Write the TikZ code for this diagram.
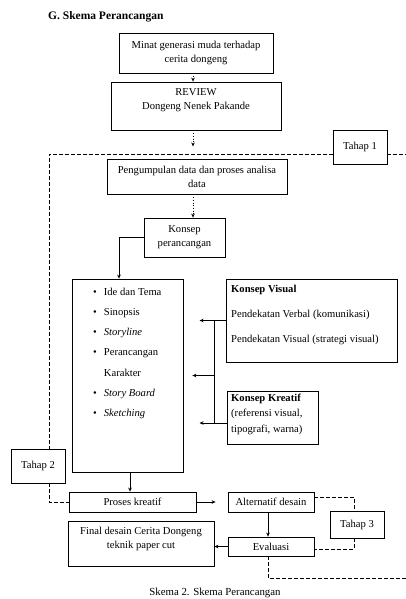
\documentclass[tikz,border=0pt]{standalone}
\usepackage{fontspec}
\setmainfont{Liberation Serif}
\usetikzlibrary{arrows.meta}

\begin{document}
\begin{tikzpicture}[x=1pt,y=-1pt,line join=miter,>={Stealth[length=4pt,width=3.6pt]},
    kotak/.style={draw,line width=0.8pt,fill=white,inner sep=0pt,font=\fontsize{10.6}{14}\selectfont,align=center},
    teks/.style={inner sep=0pt,font=\fontsize{10.6}{14}\selectfont},
    garis/.style={line width=0.7pt},
    titik/.style={line width=0.7pt,dotted},
    putus/.style={line width=0.7pt,dash pattern=on 3.5pt off 2.5pt}]
    \useasboundingbox (0,0) rectangle (406,599);
    % judul
    \node[teks,anchor=west,font=\bfseries\fontsize{11.5}{12}\selectfont] (judul) at (48,17) {G. Skema Perancangan};
    % tahap 1
    \node[kotak,minimum width=154pt,minimum height=40pt] (minat) at (196,53) {Minat generasi muda terhadap\\cerita dongeng};
    \node[kotak,minimum width=170pt,minimum height=48pt] (review) at (196,106) {};
    \node[teks,align=center] (teksreview) at (196,100) {REVIEW\\Dongeng Nenek Pakande};
    \coordinate (kiri) at (49,154);
    \coordinate (kanan) at (406,154);
    \node[kotak,minimum width=54pt,minimum height=34pt] (tahap1) at (360,147) {Tahap 1};
    \node[kotak,minimum width=180pt,minimum height=35pt] (kumpul) at (197,176.5) {Pengumpulan data dan proses analisa\\data};
    \node[kotak,minimum width=81pt,minimum height=39pt] (konsep) at (184.5,237.5) {Konsep\\perancangan};
    % tahap 2
    \node[kotak,minimum width=111pt,minimum height=193pt] (daftar) at (127.5,375.5) {};
    \node[teks,anchor=base west] (isidaftar) at (93,295) {\fontsize{10.6}{20.3}\selectfont
        \begin{tabular}[t]{@{}c@{\hspace{7pt}}l@{}}
        \textbullet & Ide dan Tema\\
        \textbullet & Sinopsis\\
        \textbullet & \textit{Storyline}\\
        \textbullet & Perancangan\\
                    & Karakter\\
        \textbullet & \textit{Story Board}\\
        \textbullet & \textit{Sketching}
        \end{tabular}};
    \node[kotak,minimum width=171pt,minimum height=83pt] (visual) at (311.5,320.5) {};
    \node[teks,anchor=base west] (isivisual) at (231,292) {\fontsize{10.6}{25}\selectfont
        \begin{tabular}[t]{@{}l@{}}
        \textbf{Konsep Visual}\\
        Pendekatan Verbal (komunikasi)\\
        Pendekatan Visual (strategi visual)
        \end{tabular}};
    \node[kotak,minimum width=91pt,minimum height=53pt] (kreatif) at (272.5,417.5) {};
    \node[teks,anchor=base west] (isikreatif) at (231,401) {\fontsize{10.6}{15.5}\selectfont
        \begin{tabular}[t]{@{}l@{}}
        \textbf{Konsep Kreatif}\\
        (referensi visual,\\
        tipografi, warna)
        \end{tabular}};
    \coordinate (cabang) at (214,0);
    \node[kotak,minimum width=127pt,minimum height=20pt] (proses) at (132.5,502) {Proses kreatif};
    \node[kotak,minimum width=54pt,minimum height=34pt] (tahap2) at (38,466) {Tahap 2};
    % tahap 3
    \node[kotak,minimum width=86pt,minimum height=20pt] (alternatif) at (271,502) {Alternatif desain};
    \node[kotak,minimum width=86pt,minimum height=19pt] (evaluasi) at (271,546.5) {Evaluasi};
    \node[kotak,minimum width=146pt,minimum height=45pt] (final) at (141,543.5) {};
    \node[teks,align=center] (teksfinal) at (141,538.5) {Final desain Cerita Dongeng\\teknik paper cut};
    \node[kotak,minimum width=54pt,minimum height=27pt] (tahap3) at (357,524.5) {Tahap 3};
    \coordinate (ujung) at (406,578);
    \node[teks,font=\fontsize{10.8}{12}\selectfont] (keterangan) at (215,593) {Skema 2. Skema Perancangan};
    % panah
    \draw[titik,->] ([xshift=-3pt]minat.south) -- ([xshift=-3pt]review.north);
    \draw[titik,->] ([xshift=-3pt]review.south) -- ++(0,16);
    \draw[titik,->] ([xshift=-4pt]kumpul.south) -- ([xshift=-4pt]kumpul.south |- konsep.north);
    \draw[garis,->] (konsep.west) -| ([xshift=-8.5pt]daftar.north);
    \draw[garis,->] (visual.west) -- ++(-26,0);
    \draw[garis] (visual.west -| cabang) -- ([yshift=-5.5pt]kreatif.west -| cabang);
    \draw[garis,->] ([yshift=-5.5pt]kreatif.west) -- ++(-27,0);
    \draw[garis,->] (cabang |- daftar.east) -- ([xshift=9pt]daftar.east);
    \draw[garis,->] ([xshift=2.5pt]daftar.south) -- ([xshift=2.5pt]daftar.south |- proses.north);
    \draw[garis,->] (proses.east) -- ([xshift=-12pt]alternatif.west);
    \draw[garis,->] ([xshift=-3pt]alternatif.south) -- ([xshift=-3pt]evaluasi.north);
    \draw[garis,->] (evaluasi.west) -- (evaluasi.west -| final.east);
    % garis putus-putus
    \draw[putus] (tahap1.west |- kiri) -- (kiri) -- (kiri |- tahap2.north);
    \draw[putus] (tahap1.east |- kanan) -- (kanan);
    \draw[putus] (kiri |- tahap2.south) -- (kiri |- proses.west) -- (proses.west);
    \draw[putus] ([yshift=5pt]alternatif.east) -| ([xshift=-3pt]tahap3.north);
    \draw[putus] ([xshift=-3pt]tahap3.south) |- ([yshift=-2.5pt]evaluasi.east);
    \draw[putus] ([xshift=-3pt]evaluasi.south) |- (ujung);
\end{tikzpicture}
\end{document}
